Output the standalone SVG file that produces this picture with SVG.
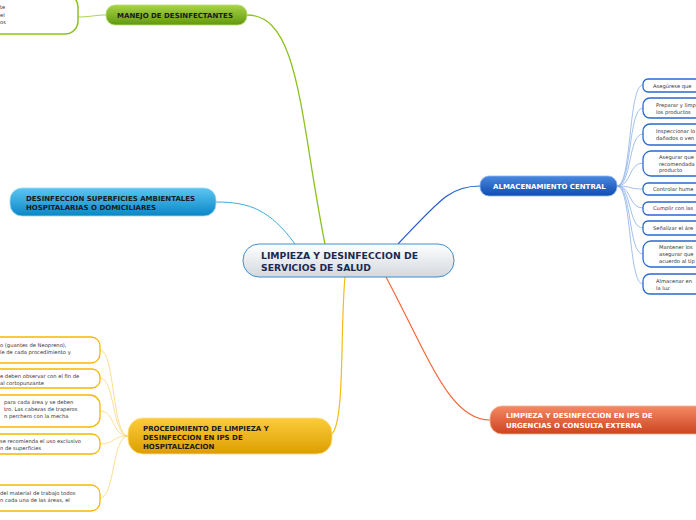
<svg xmlns="http://www.w3.org/2000/svg" width="696" height="520" viewBox="0 0 696 520">
<defs>
<linearGradient id="gCenter" x1="0" y1="0" x2="0" y2="1"><stop offset="0" stop-color="#ffffff"/><stop offset="1" stop-color="#d3d8de"/></linearGradient>
<linearGradient id="gGreen" x1="0" y1="0" x2="0" y2="1"><stop offset="0" stop-color="#a8d448"/><stop offset="1" stop-color="#62980e"/></linearGradient>
<linearGradient id="gSky" x1="0" y1="0" x2="0" y2="1"><stop offset="0" stop-color="#5cc6f2"/><stop offset="1" stop-color="#0a86c6"/></linearGradient>
<linearGradient id="gGold" x1="0" y1="0" x2="0" y2="1"><stop offset="0" stop-color="#fccc3c"/><stop offset="1" stop-color="#dc9e00"/></linearGradient>
<linearGradient id="gBlue" x1="0" y1="0" x2="0" y2="1"><stop offset="0" stop-color="#4a88e0"/><stop offset="1" stop-color="#0e4cb0"/></linearGradient>
<linearGradient id="gRed" x1="0" y1="0" x2="0" y2="1"><stop offset="0" stop-color="#f48a64"/><stop offset="1" stop-color="#cc4420"/></linearGradient>
</defs>
<style>
text{font-family:"DejaVu Sans",Verdana,sans-serif}
.h{font-weight:bold;font-size:7px;fill:#1a1a1a}
.hw{font-weight:bold;font-size:7px;fill:#ffffff}
.c{font-weight:bold;font-size:8.8px;fill:#1c2a52}
.s{font-size:5.2px;fill:#333}
.lb{fill:#fff;stroke:#f4b800;stroke-width:1.3}
.rb{fill:#fff;stroke:#2a6ad0;stroke-width:1.3}
.gb{fill:#fff;stroke:#8cc21e;stroke-width:1.5}
.cn{fill:none}
</style>
<g id="connectors">
<path class="cn" d="M78,17 C90,17 95,15 106,15" stroke="#a8d450" stroke-width="1"/>
<path class="cn" d="M247,15 C300,15 300,120 325,244" stroke="#8cc21e" stroke-width="1.3"/>
<path class="cn" d="M216,202 C250,202 270,210 295,244" stroke="#3aaee0" stroke-width="1"/>
<path class="cn" d="M345,277 C340,330 345,420 332,434" stroke="#f2bc10" stroke-width="1.2"/>
<path class="cn" d="M398,244 C440,200 450,186 480,186" stroke="#1e5cc4" stroke-width="1.2"/>
<path class="cn" d="M386,277 C430,360 450,420 490,420" stroke="#f06a3c" stroke-width="1.2"/>
<g stroke="#f8d678" stroke-width="0.8">
<path class="cn" d="M100,350 C115,350 112,436 128,436"/>
<path class="cn" d="M100,378 C115,378 112,436 128,436"/>
<path class="cn" d="M100,411 C115,411 112,436 128,436"/>
<path class="cn" d="M100,444 C115,444 112,436 128,436"/>
<path class="cn" d="M100,498 C115,498 112,436 128,436"/>
</g>
<g stroke="#8ab0e8" stroke-width="0.8">
<path class="cn" d="M617,186 C632,186 628,85 643,85"/>
<path class="cn" d="M617,186 C632,186 628,108 643,108"/>
<path class="cn" d="M617,186 C632,186 628,134 643,134"/>
<path class="cn" d="M617,186 C632,186 628,163 643,163"/>
<path class="cn" d="M617,186 C632,186 628,189 643,189"/>
<path class="cn" d="M617,186 C632,186 628,208 643,208"/>
<path class="cn" d="M617,186 C632,186 628,228 643,228"/>
<path class="cn" d="M617,186 C632,186 628,254 643,254"/>
<path class="cn" d="M617,186 C632,186 628,284 643,284"/>
</g>
</g>
<g id="central">
<rect x="243" y="244" width="211" height="33" rx="16" fill="url(#gCenter)" stroke="#3a8fd0" stroke-width="1"/>
<text class="c" x="261" y="259" textLength="157" lengthAdjust="spacingAndGlyphs">LIMPIEZA Y DESINFECCION DE</text>
<text class="c" x="261" y="271" textLength="110" lengthAdjust="spacingAndGlyphs">SERVICIOS DE SALUD</text>
</g>
<g id="manejo">
<rect x="106" y="5" width="141" height="20" rx="9" fill="url(#gGreen)" stroke="#b8e070" stroke-width="0.8"/>
<text class="h" x="117" y="18">MANEJO DE DESINFECTANTES</text>
</g>
<g id="manejo-sub">
<rect class="gb" x="-20" y="-6" width="98" height="40" rx="13"/>
<text class="s" x="0" y="9">te</text>
<text class="s" x="0" y="17">el</text>
<text class="s" x="0" y="24">os</text>
</g>
<g id="superficies">
<rect x="10" y="188" width="206" height="28" rx="12" fill="url(#gSky)" stroke="#9ad8f4" stroke-width="0.8"/>
<text class="h" x="26" y="201">DESINFECCION SUPERFICIES AMBIENTALES</text>
<text class="h" x="26" y="210">HOSPITALARIAS O DOMICILIARES</text>
</g>
<g id="procedimiento">
<rect x="128" y="418" width="204" height="36" rx="15" fill="url(#gGold)" stroke="#fde080" stroke-width="0.8"/>
<text class="h" x="143" y="431">PROCEDIMIENTO DE LIMPIEZA Y</text>
<text class="h" x="143" y="440">DESINFECCION EN IPS DE</text>
<text class="h" x="143" y="449">HOSPITALIZACION</text>
</g>
<g id="proc-1"><rect class="lb" x="-20" y="337" width="120" height="26" rx="9"/>
<text class="s" x="0" y="347">o (guantes de Neopreno),</text><text class="s" x="0" y="354">le de cada procedimiento y</text></g>
<g id="proc-2"><rect class="lb" x="-20" y="369" width="120" height="19" rx="8"/>
<text class="s" x="0" y="378">e deben observar con el fin de</text><text class="s" x="0" y="385">al cortopunzante</text></g>
<g id="proc-3"><rect class="lb" x="-20" y="395" width="120" height="32" rx="10"/>
<text class="s" x="4" y="404">para cada área y se deben</text><text class="s" x="4" y="411">tro. Las cabezas de traperos</text><text class="s" x="4" y="418">n perchero con la mecha</text></g>
<g id="proc-4"><rect class="lb" x="-20" y="434" width="120" height="20" rx="8"/>
<text class="s" x="0" y="443">se recomienda el uso exclusivo</text><text class="s" x="0" y="450">n de superficies</text></g>
<g id="proc-5"><rect class="lb" x="-20" y="485" width="120" height="26" rx="9"/>
<text class="s" x="0" y="495">del material de trabajo todos</text><text class="s" x="0" y="502">n cada una de las áreas, el</text></g>
<g id="almacenamiento">
<rect x="480" y="176" width="137" height="20" rx="9" fill="url(#gBlue)" stroke="#8ab4f0" stroke-width="0.8"/>
<text class="hw" x="493" y="189">ALMACENAMIENTO CENTRAL</text>
</g>
<g id="alm-1"><rect class="rb" x="643" y="79" width="70" height="13" rx="5"/><text class="s" x="653" y="88">Asegúrese que</text></g>
<g id="alm-2"><rect class="rb" x="643" y="98" width="70" height="20" rx="7"/><text class="s" x="656" y="107">Preparar y limp</text><text class="s" x="656" y="114">los productos</text></g>
<g id="alm-3"><rect class="rb" x="643" y="124" width="70" height="21" rx="7"/><text class="s" x="656" y="133">Inspeccionar lo</text><text class="s" x="656" y="140">dañados o ven</text></g>
<g id="alm-4"><rect class="rb" x="643" y="151" width="70" height="25" rx="8"/><text class="s" x="659" y="159">Asegurar que</text><text class="s" x="659" y="166">recomendada</text><text class="s" x="659" y="172">producto</text></g>
<g id="alm-5"><rect class="rb" x="643" y="183" width="70" height="12" rx="5"/><text class="s" x="653" y="191">Controlar hume</text></g>
<g id="alm-6"><rect class="rb" x="643" y="202" width="70" height="13" rx="5"/><text class="s" x="653" y="210">Cumplir con las</text></g>
<g id="alm-7"><rect class="rb" x="643" y="221" width="70" height="14" rx="5"/><text class="s" x="653" y="230">Señalizar el áre</text></g>
<g id="alm-8"><rect class="rb" x="643" y="241" width="70" height="26" rx="8"/><text class="s" x="659" y="249">Mantener los</text><text class="s" x="659" y="256">asegurar que</text><text class="s" x="659" y="263">acuerdo al tip</text></g>
<g id="alm-9"><rect class="rb" x="643" y="274" width="70" height="20" rx="7"/><text class="s" x="656" y="283">Almacenar en</text><text class="s" x="656" y="290">la luz</text></g>
<g id="urgencias">
<rect x="490" y="406" width="220" height="28" rx="12" fill="url(#gRed)" stroke="#f8b090" stroke-width="0.8"/>
<text class="hw" x="506" y="418">LIMPIEZA Y DESINFECCION EN IPS DE</text>
<text class="hw" x="506" y="428">URGENCIAS O CONSULTA EXTERNA</text>
</g>
</svg>
